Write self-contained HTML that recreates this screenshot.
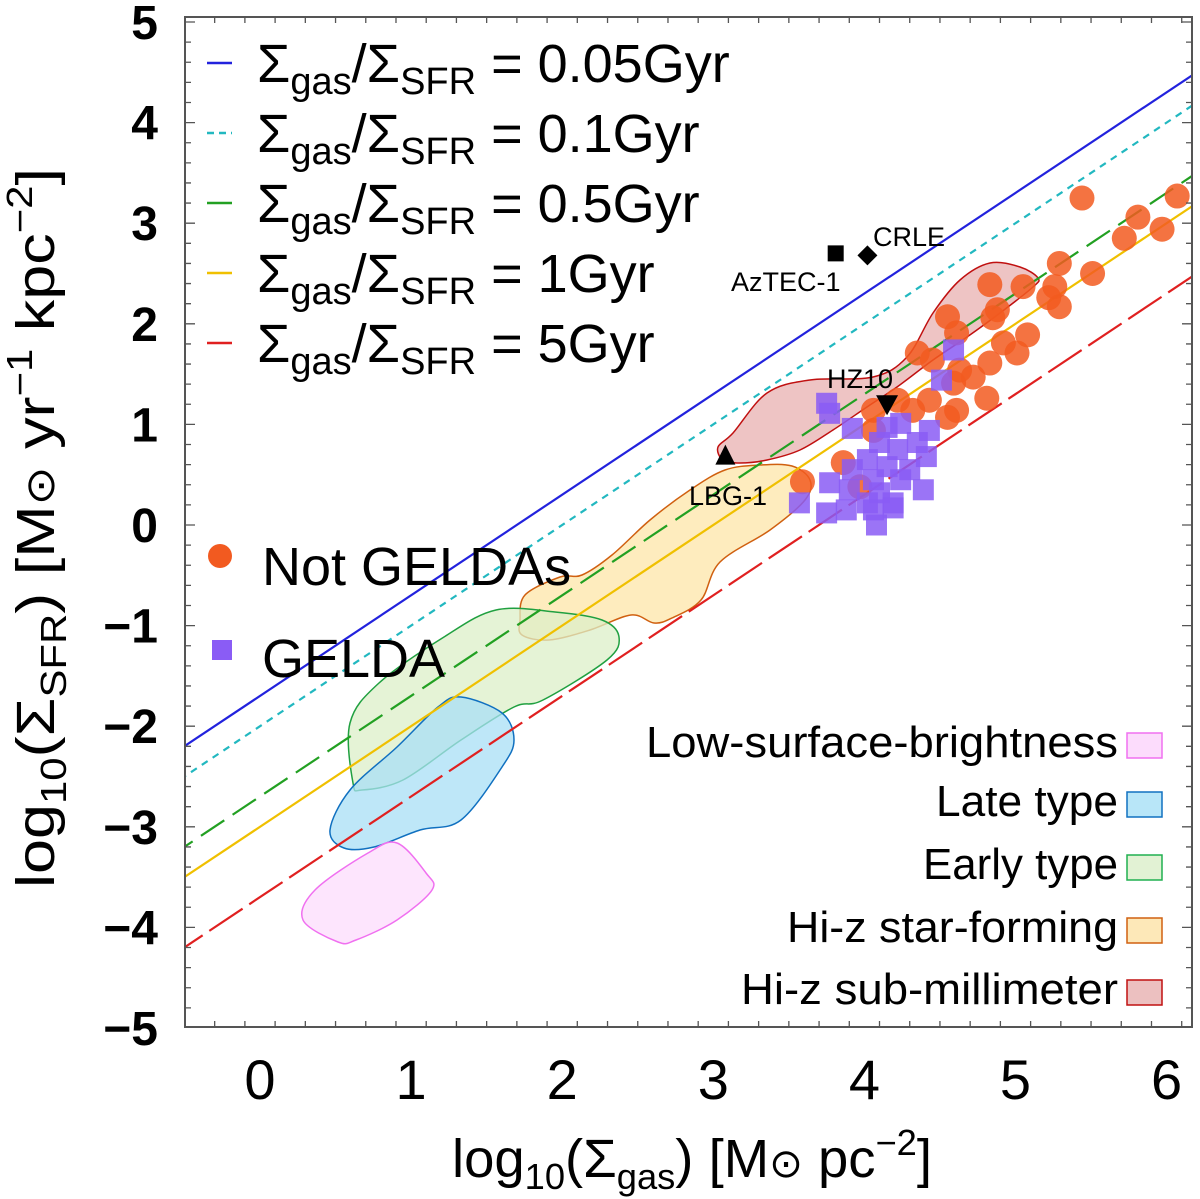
<!DOCTYPE html>
<html><head><meta charset="utf-8"><style>
html,body{margin:0;padding:0;background:#fff;}
svg{display:block;font-family:"Liberation Sans",sans-serif;}
</style></head><body>
<svg id="chart" width="1200" height="1199" viewBox="0 0 1200 1199" xmlns="http://www.w3.org/2000/svg">
<defs><clipPath id="plotclip"><rect x="185" y="17" width="1007" height="1010"/></clipPath></defs>
<g id="regions" clip-path="url(#plotclip)"></g>
<g id="lines" clip-path="url(#plotclip)"></g>
<g id="points" clip-path="url(#plotclip)"></g>
<rect x="185" y="17" width="1007" height="1010" fill="none" stroke="#555" stroke-width="2"/>
<g id="ticks"></g>
<g id="xlabels"></g>
<g id="ylabels"></g>
<text x="692" y="1177" font-size="54" text-anchor="middle" textLength="480" lengthAdjust="spacingAndGlyphs">log<tspan font-size="36" dy="12">10</tspan><tspan dy="-12">(Σ</tspan><tspan font-size="36" dy="12">gas</tspan><tspan dy="-12">) [M</tspan><tspan font-size="40">⊙</tspan><tspan> pc</tspan><tspan font-size="36" dy="-22">−2</tspan><tspan dy="22">]</tspan></text>
<text transform="translate(54,528) rotate(-90)" font-size="54" text-anchor="middle" textLength="720" lengthAdjust="spacingAndGlyphs">log<tspan font-size="36" dy="12">10</tspan><tspan dy="-12">(Σ</tspan><tspan font-size="36" dy="12">SFR</tspan><tspan dy="-12">) [M</tspan><tspan font-size="40">⊙</tspan><tspan> yr</tspan><tspan font-size="36" dy="-22">−1</tspan><tspan dy="22"> kpc</tspan><tspan font-size="36" dy="-22">−2</tspan><tspan dy="22">]</tspan></text>
<g id="legend"></g>
<g id="legend2"></g>
<g id="annot"></g>
</svg>
<script>
const NS="http://www.w3.org/2000/svg";
const xTicks=[0,1,2,3,4,5,6];
const yTicks=[5,4,3,2,1,0,-1,-2,-3,-4,-5];
const depletionGyr=[0.05,0.1,0.5,1,5];
const depletionLabels=["0.05Gyr","0.1Gyr","0.5Gyr","1Gyr","5Gyr"];
const notGeldaX=[5.44,6.07,5.81,5.72,5.97,5.29,5.51,4.83,5.05,5.26,5.29,5.22,4.88,4.85,4.55,4.61,5.08,4.92,5.01,4.35,4.45,4.83,4.63,4.72,4.59,4.81,4.61,4.55,4.43,4.32,4.22,4.06,4.06,3.86,3.97,3.59];
const notGeldaY=[3.25,3.27,3.06,2.85,2.94,2.60,2.50,2.39,2.37,2.37,2.17,2.26,2.14,2.06,2.07,1.91,1.89,1.81,1.71,1.71,1.64,1.61,1.54,1.47,1.41,1.26,1.14,1.07,1.24,1.14,1.24,1.14,0.94,0.62,0.38,0.43];
const geldaX=[3.75,3.77,4.59,4.51,3.92,4.15,4.24,4.43,4.35,4.10,4.22,4.41,4.02,4.15,3.92,4.30,4.06,4.24,3.77,3.90,4.39,4.10,4.02,4.19,3.57,3.75,3.88,4.06,4.19,4.08];
const geldaY=[1.21,1.11,1.74,1.44,0.96,0.97,1.01,0.94,0.82,0.82,0.75,0.68,0.65,0.58,0.55,0.55,0.45,0.45,0.42,0.35,0.35,0.32,0.22,0.22,0.22,0.12,0.15,0.15,0.17,0.0];
const specialNames=["AzTEC-1","CRLE","HZ10","LBG-1"];
const specialX=[3.81,4.02,4.15,3.08];
const specialY=[2.70,2.68,1.19,0.70];

const X=v=>260+v*151.1, Y=v=>525-v*100.6;
function mk(tag,attrs,parent){const e=document.createElementNS(NS,tag);for(const k in attrs)e.setAttribute(k,attrs[k]);parent.appendChild(e);return e;}
const $=id=>document.getElementById(id);

const regions=[
 {n:"hi-z-star-forming-region",f:"#fde6a8",s:"#d06010",p:[[520,620],[525,595],[560,577],[582,575],[612,555],[650,520],[690,490],[725,470],[760,465],[792,466],[810,480],[805,500],[770,530],[720,562],[701,600],[672,618],[654,623],[631,615],[590,630],[549,640],[522,635]]},
 {n:"early-type-region",f:"#dcefc8",s:"#20a040",p:[[353,783],[350,723],[379,683],[444,637],[496,610],[555,612],[602,620],[619,637],[607,660],[543,700],[514,707],[461,740],[403,780],[362,790]]},
 {n:"late-type-region",f:"#a8dff5",s:"#1070c0",p:[[330,830],[344,848],[374,847],[420,830],[461,820],[502,767],[514,740],[502,713],[461,697],[438,707],[397,747],[350,790]]},
 {n:"low-surface-brightness-region",f:"#fcdcfc",s:"#f070f0",p:[[338,942],[303,920],[315,890],[368,853],[397,843],[426,873],[432,890],[397,920],[356,940]]},
 {n:"hi-z-submm-region",f:"#e8b0b0",s:"#c01010",p:[[718,447],[733,433],[767,393],[810,380],[873,377],[907,357],[933,313],[960,280],[990,263],[1020,267],[1038,278],[1033,287],[1000,313],[967,337],[933,360],[897,387],[867,407],[833,430],[800,450],[767,460],[740,463],[723,460]]}
];
function smooth(p){const n=p.length;let d=`M${p[0][0]},${p[0][1]}`;for(let i=0;i<n;i++){const p0=p[(i-1+n)%n],p1=p[i],p2=p[(i+1)%n],p3=p[(i+2)%n];d+=` C${p1[0]+(p2[0]-p0[0])/6},${p1[1]+(p2[1]-p0[1])/6} ${p2[0]-(p3[0]-p1[0])/6},${p2[1]-(p3[1]-p1[1])/6} ${p2[0]},${p2[1]}`;}return d+"Z";}
regions.forEach(r=>{const e=mk("path",{d:smooth(r.p),fill:r.f,"fill-opacity":"0.75",stroke:r.s,"stroke-width":"1.5"},$("regions"));

});

const lineCols=["#2222dd","#22b8c0","#22a022","#f0c000","#e02020"];
const lineDash=["","7,6","28,10","","40,8"];
depletionGyr.forEach((t,i)=>{const off=6-Math.log10(t*1e9);const x0=-0.6,x1=6.3;
const e=mk("line",{x1:X(x0),y1:Y(x0+off),x2:X(x1),y2:Y(x1+off),stroke:lineCols[i],"stroke-width":"2.2","stroke-dasharray":lineDash[i]},$("lines"));

});

notGeldaX.forEach((x,i)=>{const e=mk("circle",{cx:X(x),cy:Y(notGeldaY[i]),r:12.5,fill:"#f25a20","fill-opacity":"0.85"},$("points"));

});
geldaX.forEach((x,i)=>{const e=mk("rect",{x:X(x)-10.5,y:Y(geldaY[i])-10.5,width:21,height:21,fill:"#8a5cf5","fill-opacity":"0.85"},$("points"));

});

(function(){const g=$("annot");
let cx=X(specialX[0]),cy=Y(specialY[0]);
let e=mk("rect",{x:cx-8,y:cy-8,width:16,height:16,fill:"#000"},g);
cx=X(specialX[1]);cy=Y(specialY[1]);
e=mk("path",{d:`M${cx},${cy-10}L${cx+10},${cy}L${cx},${cy+10}L${cx-10},${cy}Z`,fill:"#000"},g);
cx=X(specialX[2]);cy=Y(specialY[2]);
e=mk("path",{d:`M${cx-11},${cy-10}L${cx+11},${cy-10}L${cx},${cy+10}Z`,fill:"#000"},g);
cx=X(specialX[3]);cy=Y(specialY[3]);
e=mk("path",{d:`M${cx-10},${cy+10}L${cx+10},${cy+10}L${cx},${cy-10}Z`,fill:"#000"},g);
const lab=[[731,291,"AzTEC-1"],[873,246,"CRLE"],[827,388,"HZ10"],[689,505,"LBG-1"]];
lab.forEach(l=>{const t=mk("text",{x:l[0],y:l[1],"font-size":"27"},g);t.textContent=l[2];

});})();

(function(){const g=$("ticks");let d="";
for(let v=-0.5;v<=6.2;v+=0.2){const x=X(v);if(x<186||x>1191)continue;const L=Math.abs(v-Math.round(v))<0.01?10:6;d+=`M${x},1027v-${L}M${x},17v${L}`;}
for(let v=-5;v<=5.1;v+=0.2){const y=Y(v);if(y<18||y>1026)continue;const L=Math.abs(v-Math.round(v))<0.01?10:6;d+=`M185,${y}h${L}M1192,${y}h-${L}`;}
mk("path",{d:d,stroke:"#555","stroke-width":"1.3",fill:"none"},g);
xTicks.forEach(v=>{const t=mk("text",{x:X(v),y:1099,"font-size":"56","text-anchor":"middle"},$("xlabels"));t.textContent=String(v);

});
yTicks.forEach(v=>{const t=mk("text",{x:158,y:Y(v)+17,"font-size":"48","text-anchor":"end","font-weight":"bold"},$("ylabels"));t.textContent=(v<0?"\u2212":"")+Math.abs(v);

});})();

(function(){const g=$("legend");
const lens=[478,450,450,408,408];
depletionGyr.forEach((t,i)=>{const y=63+70*i;
const l=mk("line",{x1:207,y1:y,x2:232,y2:y,stroke:lineCols[i],"stroke-width":"2.5","stroke-dasharray":i==1?"7,5":""},g);


const tx=mk("text",{x:257,y:y+19,"font-size":"54"},g);
tx.innerHTML=`Σ<tspan font-size="38" dy="12">gas</tspan><tspan dy="-12">/Σ</tspan><tspan font-size="38" dy="12">SFR</tspan><tspan dy="-12"> = ${depletionLabels[i]}</tspan>`;

});
let c=mk("circle",{cx:220,cy:556,r:12,fill:"#f25a20"},g);
let t=mk("text",{x:262,y:585,"font-size":"54"},g);t.textContent="Not GELDAs";
let r=mk("rect",{x:212,y:640,width:20,height:20,fill:"#8a5cf5"},g);
t=mk("text",{x:262,y:677,"font-size":"54"},g);t.textContent="GELDA";
})();

(function(){const g=$("legend2");
const names=["Low-surface-brightness","Late type","Early type","Hi-z star-forming","Hi-z sub-millimeter"];
const widths=[472,182,195,331,377];
const f=["#fcdcfc","#b8e6f8","#e2f2d4","#fde8b8","#ecc0c0"],s=["#f070f0","#1070c0","#20b050","#d06010","#c01010"];
const ys=[733,792,855,918,980];
names.forEach((n,i)=>{const b=mk("rect",{x:1127,y:ys[i],width:35,height:25,fill:f[i],stroke:s[i],"stroke-width":"1.5"},g);


const t=mk("text",{x:1118-widths[i],y:ys[i]+24,"font-size":"44",textLength:widths[i],lengthAdjust:"spacingAndGlyphs"},g);t.textContent=n;

});})();
</script>
</body></html>
